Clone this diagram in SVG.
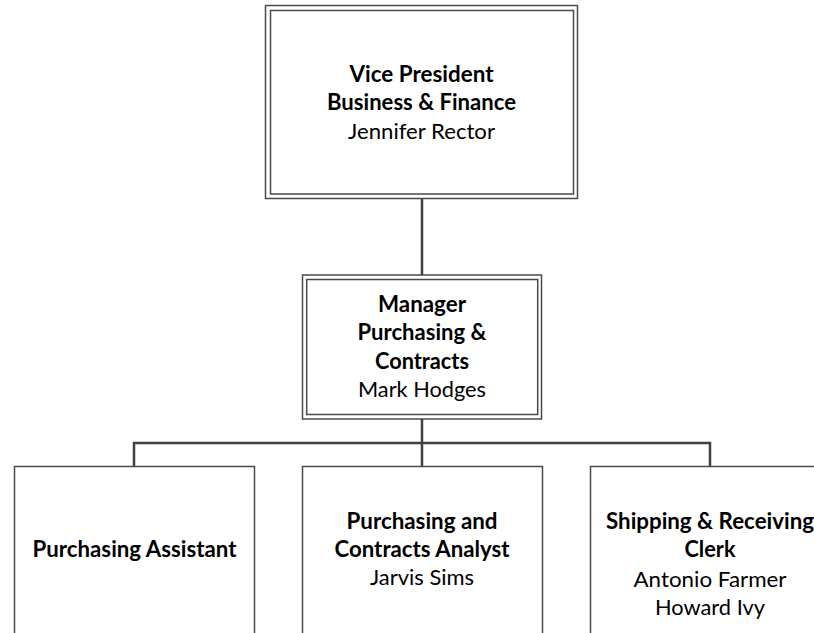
<svg xmlns="http://www.w3.org/2000/svg" width="814" height="633" viewBox="0 0 814 633">
<style>
.box{fill:#ffffff;stroke:#4a4a4a;stroke-width:1.5}
.conn{fill:none;stroke:#404040;stroke-width:2.5}
text{font-family:Lato,"Open Sans","Liberation Sans",sans-serif;font-size:22px;fill:#000;text-anchor:middle}
.b{font-weight:bold}
</style>
<rect x="0" y="0" width="814" height="633" fill="#ffffff"/>
<g id="connectors">
<line class="conn" x1="422" y1="198.5" x2="422" y2="275"/>
<line class="conn" x1="422" y1="419" x2="422" y2="466.5"/>
<polyline class="conn" points="134,466.5 134,443 710,443 710,466.5"/>
</g>
<g id="vp">
<rect class="box" x="265.5" y="5.5" width="312" height="193"/>
<rect class="box" x="270.5" y="10.5" width="303" height="183.5"/>
<text class="b" x="421.5" y="82" textLength="144" lengthAdjust="spacingAndGlyphs">Vice President</text>
<text class="b" x="421.5" y="110" textLength="189" lengthAdjust="spacingAndGlyphs">Business &amp; Finance</text>
<text x="421.5" y="138.5" textLength="147" lengthAdjust="spacingAndGlyphs">Jennifer Rector</text>
</g>
<g id="manager">
<rect class="box" x="302.5" y="275" width="239" height="144"/>
<rect class="box" x="306.7" y="279.5" width="231" height="135"/>
<text class="b" x="422" y="311.5" textLength="88" lengthAdjust="spacingAndGlyphs">Manager</text>
<text class="b" x="422" y="340" textLength="129" lengthAdjust="spacingAndGlyphs">Purchasing &amp;</text>
<text class="b" x="422" y="368.5" textLength="94" lengthAdjust="spacingAndGlyphs">Contracts</text>
<text x="422" y="397" textLength="128" lengthAdjust="spacingAndGlyphs">Mark Hodges</text>
</g>
<g id="assistant">
<rect class="box" x="14.5" y="466.5" width="240" height="200"/>
<text class="b" x="134.5" y="556.5" textLength="204" lengthAdjust="spacingAndGlyphs">Purchasing Assistant</text>
</g>
<g id="analyst">
<rect class="box" x="302.5" y="466.5" width="240" height="200"/>
<text class="b" x="422" y="528.5" textLength="151" lengthAdjust="spacingAndGlyphs">Purchasing and</text>
<text class="b" x="422" y="556.5" textLength="175" lengthAdjust="spacingAndGlyphs">Contracts Analyst</text>
<text x="422" y="584.5" textLength="104" lengthAdjust="spacingAndGlyphs">Jarvis Sims</text>
</g>
<g id="clerk">
<rect class="box" x="590.5" y="466.5" width="240" height="200"/>
<text class="b" x="710" y="528.5" textLength="208" lengthAdjust="spacingAndGlyphs">Shipping &amp; Receiving</text>
<text class="b" x="710" y="556.5" textLength="51" lengthAdjust="spacingAndGlyphs">Clerk</text>
<text x="710" y="587" textLength="153" lengthAdjust="spacingAndGlyphs">Antonio Farmer</text>
<text x="710" y="614.5" textLength="110" lengthAdjust="spacingAndGlyphs">Howard Ivy</text>
</g>
</svg>
